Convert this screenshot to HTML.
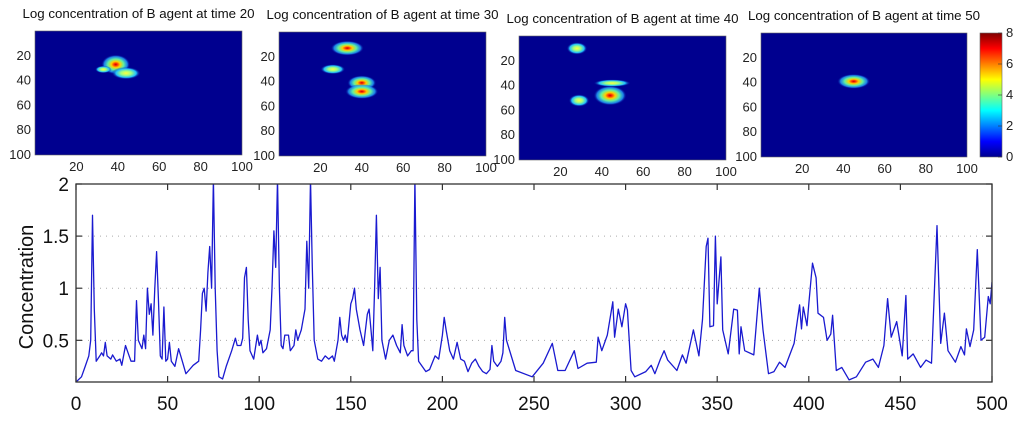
<!DOCTYPE html>
<html><head><meta charset="utf-8"><style>
html,body{margin:0;padding:0;background:#fff;width:1024px;height:424px;overflow:hidden}
svg{display:block}
text{font-family:"Liberation Sans",sans-serif}
</style></head><body>
<svg id="root" width="1024" height="424" viewBox="0 0 1024 424">
<defs>
<linearGradient id="jet" x1="0" y1="1" x2="0" y2="0">
<stop offset="0" stop-color="#00008f"/><stop offset="0.125" stop-color="#0000ff"/>
<stop offset="0.375" stop-color="#00ffff"/><stop offset="0.625" stop-color="#ffff00"/>
<stop offset="0.875" stop-color="#ff0000"/><stop offset="1" stop-color="#800000"/>
</linearGradient>
<radialGradient id="blob">
<stop offset="0" stop-color="#c00000"/><stop offset="0.12" stop-color="#ff3000"/>
<stop offset="0.3" stop-color="#ffd000"/><stop offset="0.55" stop-color="#60f0a0"/>
<stop offset="0.8" stop-color="#20a0ff" stop-opacity="0.8"/><stop offset="1" stop-color="#00008f" stop-opacity="0"/>
</radialGradient>
<radialGradient id="blobw">
<stop offset="0" stop-color="#ffff40"/><stop offset="0.35" stop-color="#a0ff80"/>
<stop offset="0.7" stop-color="#20c0ff"/><stop offset="1" stop-color="#00008f" stop-opacity="0"/>
</radialGradient>
</defs>
<g id="panels"></g>
<g id="main"></g>
</svg>
<script>
// ---- line chart data ----
const seriesX = [0,3,5,7,8,9,10,11,13,14,15,16,17,19,20,22,24,25,27,28,30,32,33,34,36,37,38,39,40,41,42,43,44,45,46,47,48,49,50,51,52,54,56,58,60,62,64,67,68,69,70,71,72,73,74,75,76,77,78,80,82,85,87,88,90,91,92,93,94,95,97,99,100,101,102,104,106,107,108,109,110,111,112,113,114,116,117,119,120,121,123,125,126,127,128,129,130,132,134,136,138,140,141,143,144,145,146,147,148,150,151,152,153,155,157,159,160,161,162,163,164,165,166,167,169,171,173,175,177,178,179,181,183,184,185,186,187,189,191,193,196,198,200,201,202,204,206,208,210,212,214,216,218,220,222,224,226,227,228,230,232,233,234,235,240,249,255,260,263,267,272,274,279,284,285,287,290,293,294,296,298,300,301,303,305,311,314,316,319,321,323,328,331,333,337,340,342,344,345,346,348,349,350,352,353,356,359,361,362,363,365,370,373,375,378,381,384,387,392,395,396,397,399,400,402,404,405,408,410,412,413,415,418,422,426,431,435,438,441,443,445,448,451,453,454,457,461,464,467,470,472,474,476,480,483,485,486,488,490,492,494,496,498,499,500];
const seriesY = [0.1,0.15,0.25,0.35,0.5,1.7,0.8,0.3,0.35,0.38,0.35,0.48,0.35,0.32,0.36,0.3,0.32,0.26,0.45,0.4,0.3,0.3,0.88,0.5,0.42,0.55,0.42,1.0,0.75,0.85,0.55,1.0,1.35,0.9,0.35,0.32,0.82,0.3,0.32,0.48,0.3,0.25,0.42,0.3,0.18,0.22,0.26,0.3,0.6,0.95,1.0,0.78,1.15,1.4,1.0,2.05,1.0,0.4,0.15,0.13,0.25,0.4,0.52,0.45,0.45,0.52,1.1,1.2,0.7,0.4,0.32,0.55,0.45,0.5,0.38,0.42,0.6,1.0,1.55,1.2,2.05,1.0,0.45,0.42,0.55,0.55,0.4,0.45,0.6,0.5,0.6,0.8,1.45,1.0,2.05,1.2,0.5,0.32,0.3,0.35,0.32,0.35,0.3,0.5,0.72,0.55,0.5,0.55,0.48,0.85,0.9,1.0,0.8,0.6,0.45,0.75,0.8,0.6,0.4,1.0,1.7,0.9,1.2,0.5,0.32,0.5,0.55,0.45,0.38,0.65,0.45,0.35,0.4,0.4,2.05,0.7,0.3,0.25,0.2,0.22,0.35,0.32,0.55,0.72,0.6,0.4,0.32,0.48,0.32,0.3,0.2,0.28,0.32,0.25,0.2,0.18,0.22,0.45,0.3,0.25,0.3,0.38,0.72,0.5,0.21,0.15,0.28,0.47,0.21,0.21,0.4,0.23,0.28,0.29,0.53,0.4,0.55,0.87,0.53,0.8,0.63,0.85,0.79,0.21,0.15,0.2,0.26,0.18,0.32,0.4,0.31,0.21,0.36,0.28,0.6,0.35,0.7,1.4,1.48,0.63,0.64,1.5,0.85,1.3,0.6,0.37,0.8,0.79,0.37,0.63,0.4,0.36,1.0,0.6,0.18,0.2,0.29,0.24,0.47,0.84,0.61,0.82,0.64,0.85,1.24,1.1,0.76,0.72,0.5,0.56,0.74,0.21,0.24,0.12,0.15,0.29,0.32,0.24,0.45,0.9,0.53,0.68,0.35,0.93,0.32,0.37,0.24,0.31,0.28,1.6,0.47,0.76,0.4,0.29,0.44,0.36,0.61,0.44,0.6,1.37,0.5,0.53,0.92,0.85,1.06];
const xTicks = [0,50,100,150,200,250,300,350,400,450,500];
const yTicks = [0.5,1,1.5,2];
const yTickLabels = ["0.5","1","1.5","2"];
// ---- heatmap panel data ----
const panelTitles = ["Log concentration of B agent at time 20","Log concentration of B agent at time 30","Log concentration of B agent at time 40","Log concentration of B agent at time 50"];
const panelTicks = [20,40,60,80,100];
// blobs per panel: [col, row, radiusX, radiusY, hot(1)/warm(0)]
const panelBlobs = [
  [[39,27,7,8,1],[44,34,7,5,0],[33,31,4,3,0]],
  [[33,13,8,6,1],[26,30,6,4,0],[40,41,7,6,1],[40,48,8,6,1]],
  [[28,10,5,5,0],[44,48,8,8,1],[29,52,5,5,0],[45,38,9,3,0]],
  [[45,39,8,6,1]]
];
const colorbarTicks = [0,2,4,6,8];

const NS="http://www.w3.org/2000/svg";
function mk(tag,attrs,parent){const e=document.createElementNS(NS,tag);for(const k in attrs)e.setAttribute(k,attrs[k]);parent.appendChild(e);return e;}

// panels
const panelBoxes=[[35,31,207,124],[279,32,207,124],[519,36,207,124],[761,33,206,124]];
const pg=document.getElementById('panels');
panelBoxes.forEach((b,i)=>{
  const g=mk('g',{},pg);
  
  
  const [x0,y0,w,h]=b;
  const t=mk('text',{x:x0+w/2,y:y0-13,'font-size':'13.3','text-anchor':'middle',fill:'#111'},g);
  t.textContent=panelTitles[i];
  
  
  const bg=mk('rect',{x:x0,y:y0,width:w,height:h,fill:'#00008f',stroke:'#666','stroke-width':0.6},g);
  
  
  panelBlobs[i].forEach(bl=>{
    const el=mk('ellipse',{cx:x0+bl[0]/100*w,cy:y0+bl[1]/100*h,rx:bl[2]/100*w,ry:bl[3]/100*h,fill:bl[4]?'url(#blob)':'url(#blobw)'},g);
    
    
  });
  panelTicks.forEach(v=>{
    const tx=mk('text',{x:x0+v/100*w,y:y0+h+16,'font-size':'13','text-anchor':'middle',fill:'#222'},g);
    tx.textContent=v;
    
    
    const ty=mk('text',{x:x0-4,y:y0+v/100*h+4,'font-size':'13','text-anchor':'end',fill:'#222'},g);
    ty.textContent=v;
    
    
  });
});
// colorbar
const cb=mk('g',{},pg);


mk('rect',{x:980,y:33,width:22,height:124,fill:'url(#jet)',stroke:'#666','stroke-width':0.6},cb);
colorbarTicks.forEach(v=>{
  const y=157-v/8*124;
  mk('line',{x1:998,x2:1002,y1:y,y2:y,stroke:'#333','stroke-width':0.6},cb);
  const t=mk('text',{x:1006,y:y+4,'font-size':'13',fill:'#222'},cb);
  t.textContent=v;
  
  
});

// main chart
const L=76,R=992,T=184,B=382,ymin=0.1,ymax=2;
const sx=v=>L+(v-0)/500*(R-L);
const sy=v=>B-(v-ymin)/(ymax-ymin)*(B-T);
const mg=document.getElementById('main');


[0.5,1,1.5].forEach(v=>{
  const l=mk('line',{x1:L,x2:R,y1:sy(v),y2:sy(v),stroke:'#aaa','stroke-width':1,'stroke-dasharray':'1 5'},mg);
  
  
});
const clipR=mk('clipPath',{id:'pc'},mg);mk('rect',{x:L,y:T,width:R-L,height:B-T},clipR);
let d='';seriesX.forEach((x,i)=>{d+=(i?'L':'M')+sx(x).toFixed(1)+','+sy(seriesY[i]).toFixed(1);});
const line=mk('path',{d:d,fill:'none',stroke:'#1a1ad0','stroke-width':1.3,'clip-path':'url(#pc)','stroke-linejoin':'round'},mg);


const frame=mk('rect',{x:L,y:T,width:R-L,height:B-T,fill:'none',stroke:'#333','stroke-width':1.3},mg);


xTicks.forEach(v=>{
  const x=sx(v);
  mk('line',{x1:x,x2:x,y1:B,y2:B-6,stroke:'#333','stroke-width':1.2},mg);
  mk('line',{x1:x,x2:x,y1:T,y2:T+6,stroke:'#333','stroke-width':1.2},mg);
  const t=mk('text',{x:x,y:B+28,'font-size':'19','text-anchor':'middle',fill:'#111'},mg);
  t.textContent=v;
  
  
});
yTicks.forEach((v,i)=>{
  const y=sy(v);
  mk('line',{x1:L,x2:L+6,y1:y,y2:y,stroke:'#333','stroke-width':1.2},mg);
  mk('line',{x1:R,x2:R-6,y1:y,y2:y,stroke:'#333','stroke-width':1.2},mg);
  const t=mk('text',{x:L-7,y:y+7,'font-size':'19','text-anchor':'end',fill:'#111'},mg);
  t.textContent=yTickLabels[i];
  
  
});
const yt=mk('text',{x:0,y:0,'font-size':'20','text-anchor':'middle',fill:'#111',transform:'translate(33,287) rotate(-90)'},mg);
yt.textContent='Concentration';


</script>
</body></html>
